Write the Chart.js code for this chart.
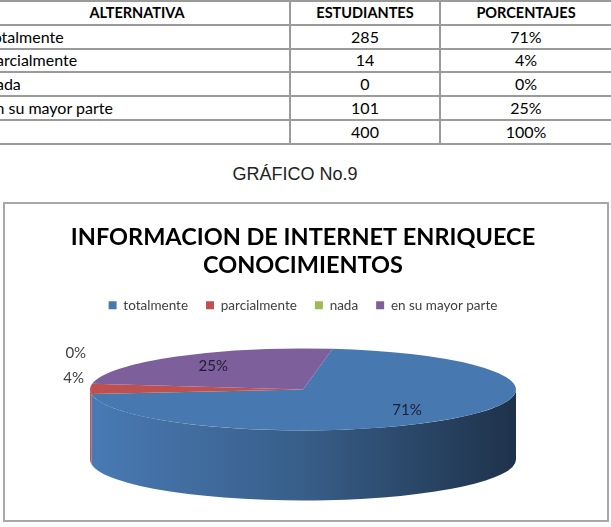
<!DOCTYPE html>
<html>
<head>
<meta charset="utf-8">
<script src="https://cdn.jsdelivr.net/npm/chart.js@4.4.1/dist/chart.umd.min.js"></script>
<style>
  body { margin: 0; background: #fff; width: 611px; height: 527px; overflow: hidden; position: relative; }
  #tabla { position: absolute; left: -17px; top: 0; border-collapse: collapse; table-layout: fixed; width: 628px; font-family: Lato, sans-serif; font-size: 16px; color: #000; }
  #tabla td, #tabla th { border: 2px solid #9a9a9a; height: 21.8px; padding: 0; line-height: 20px; overflow: hidden; white-space: nowrap; }
  #tabla th { font-size: 14.5px; font-weight: bold; text-align: center; }
  #tabla td { text-align: center; }
  #tabla td.alt { text-align: left; padding-left: 2px; }
  #caption { position: absolute; left: 0; top: 164px; width: 590px; text-align: center; font-family: "Liberation Sans", Arial, sans-serif; font-size: 18px; color: #222; }
  #box { position: absolute; left: 3px; top: 202px; width: 602px; height: 316px; border: 2px solid #a8a8a8; }
  canvas { display: block; }
</style>
</head>
<body>
<table id="tabla">
  <colgroup><col style="width:306px"><col style="width:150px"><col style="width:172px"></colgroup>
  <thead>
    <tr><th>ALTERNATIVA</th><th>ESTUDIANTES</th><th>PORCENTAJES</th></tr>
  </thead>
  <tbody id="cuerpo"></tbody>
</table>
<div id="caption">GRÁFICO No.9</div>
<div id="box"><canvas id="pie" width="602" height="316"></canvas></div>

<script>
// Datos de la tabla / gráfico
const alternativas = ['totalmente', 'parcialmente', 'nada', 'en su mayor parte'];
const estudiantes = [285, 14, 0, 101];
const porcentajes = [71, 4, 0, 25];
const totalEstudiantes = 400;
const totalPorcentaje = 100;

const colores = ['#4878b0', '#c0504d', '#9bbb59', '#7d5f9b'];

// Fill the table
const cuerpo = document.getElementById('cuerpo');
alternativas.forEach(function (alt, i) {
    const tr = document.createElement('tr');
    tr.innerHTML = '<td class="alt">' + alt + '</td><td>' + estudiantes[i] + '</td><td>' + porcentajes[i] + '%</td>';
    cuerpo.appendChild(tr);
});
const trTotal = document.createElement('tr');
trTotal.innerHTML = '<td class="alt"></td><td>' + totalEstudiantes + '</td><td>' + totalPorcentaje + '%</td>';
cuerpo.appendChild(trTotal);

// shade a hex colour by factor
function shade(hex, f) {
    const n = parseInt(hex.slice(1), 16);
    const r = Math.round(((n >> 16) & 255) * f);
    const g = Math.round(((n >> 8) & 255) * f);
    const b = Math.round((n & 255) * f);
    return 'rgb(' + r + ',' + g + ',' + b + ')';
}

// flat 3D look: squash the pie into an ellipse and draw a side wall
const RX = 213, RY = 41, DEPTH = 70;
const pie3d = {
    id: 'pie3d',
    beforeDatasetsDraw(chart) {
        const ctx = chart.ctx;
        const arcs = chart.getDatasetMeta(0).data;
        const cx = arcs[0].x, cy = arcs[0].y, R = arcs[0].outerRadius;
        arcs.forEach(function (arc, i) {
            if (arc.endAngle - arc.startAngle <= 0) return;
            [-2 * Math.PI, 0, 2 * Math.PI].forEach(function (off) {
                const a = Math.max(arc.startAngle, off);
                const b = Math.min(arc.endAngle, off + Math.PI);
                if (a >= b) return;
                const grad = ctx.createLinearGradient(cx - RX, 0, cx + RX, 0);
                grad.addColorStop(0, shade(colores[i], 1.02));
                grad.addColorStop(0.5, shade(colores[i], 0.78));
                grad.addColorStop(1, shade(colores[i], 0.42));
                ctx.beginPath();
                ctx.ellipse(cx, cy, RX, RY, 0, a, b, false);
                ctx.ellipse(cx, cy + DEPTH, RX, RY, 0, b, a, true);
                ctx.closePath();
                ctx.fillStyle = grad;
                ctx.fill();
            });
        });
        ctx.save();
        ctx.translate(cx, cy);
        ctx.scale(RX / R, RY / R);
        ctx.translate(-cx, -cy);
    },
    afterDatasetsDraw(chart) {
        const ctx = chart.ctx;
        ctx.restore();
        const arcs = chart.getDatasetMeta(0).data;
        const cx = arcs[0].x, cy = arcs[0].y;
        ctx.save();
        ctx.font = '15px Lato, sans-serif';
        ctx.textBaseline = 'middle';
        let prevY = null;
        arcs.forEach(function (arc, i) {
            const mid = (arc.startAngle + arc.endAngle) / 2;
            const txt = porcentajes[i] + '%';
            if (porcentajes[i] >= 10) {
                ctx.fillStyle = '#1c1f33';
                ctx.textAlign = 'center';
                ctx.fillText(txt, cx + RX * 0.7 * Math.cos(mid), cy + RY * 0.7 * Math.sin(mid));
            } else {
                let y = cy + RY * Math.sin(mid) - 11;
                if (prevY !== null) y = Math.min(y, prevY - 25);
                prevY = y;
                ctx.fillStyle = '#404040';
                ctx.textAlign = Math.cos(mid) < 0 ? 'right' : 'left';
                ctx.fillText(txt, cx + (RX + 6) * Math.cos(mid), y);
            }
        });
        ctx.restore();
    }
};

new Chart(document.getElementById('pie'), {
    type: 'pie',
    data: {
        labels: alternativas,
        datasets: [{
            data: porcentajes,
            backgroundColor: colores,
            borderWidth: 0
        }]
    },
    options: {
        responsive: false,
        animation: false,
        events: [],
        rotation: 8,
        layout: { padding: { left: 0, right: 6, top: 0, bottom: 63 } },
        plugins: {
            title: {
                display: true,
                text: ['INFORMACION DE INTERNET ENRIQUECE', 'CONOCIMIENTOS'],
                color: '#000',
                font: { family: 'Lato, sans-serif', size: 23.5, weight: 'bold', lineHeight: 1.2 },
                padding: { top: 19, bottom: 1 }
            },
            legend: {
                position: 'top',
                labels: {
                    boxWidth: 8,
                    boxHeight: 8,
                    padding: 18,
                    color: '#404040',
                    font: { family: 'Lato, sans-serif', size: 13.5 }
                }
            },
            tooltip: { enabled: false }
        }
    },
    plugins: [pie3d]
});
</script>
</body>
</html>
